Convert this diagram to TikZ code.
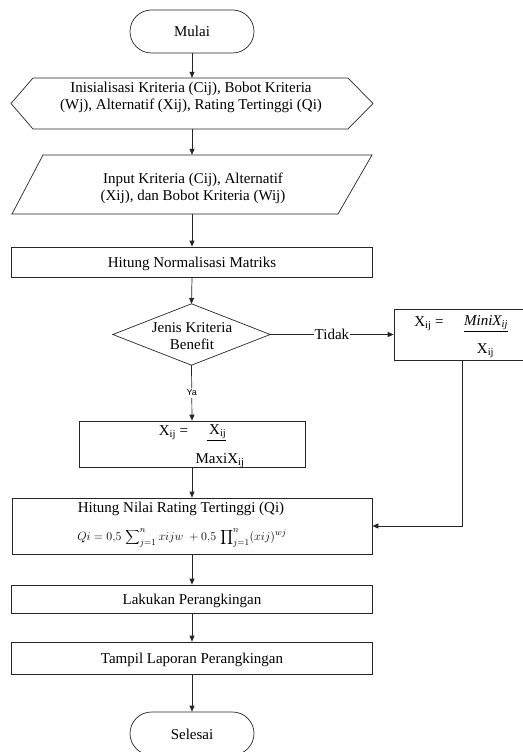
\documentclass[tikz,border=0pt]{standalone}
\usepackage{fontspec}
\setmainfont{Liberation Serif}
\newfontfamily\yafont{Liberation Sans}
\usetikzlibrary{arrows.meta,shapes.misc}
\begin{document}
\begin{tikzpicture}[x=1pt,y=-1pt,
  lc/.style={draw=black!85,line width=0.7pt},
  arr/.style={lc,-{Triangle[length=6pt,width=5pt]}},
  txt/.style={font=\fontsize{15}{17}\selectfont,inner sep=0pt,align=center},
  shp/.style={rectangle,inner sep=0pt},
  term/.style={lc,rounded rectangle,inner sep=0pt,minimum width=124pt,minimum height=43pt,
    font=\fontsize{15}{17}\selectfont,text height=13pt,text depth=2pt},
  pbox/.style={lc,rectangle,inner sep=0pt,font=\fontsize{15}{17}\selectfont,text height=13pt,text depth=2pt}
]
\useasboundingbox (0,0) rectangle (522,752);

% start
\node[term] (start) at (192,31.5) {Mulai};

% hexagon (preparation)
\node[shp,minimum width=362pt,minimum height=51pt] (hex) at (192,103.5) {};
\draw[lc] (11,103.5) -- (33,78) -- (348,78) -- (373,103.5) -- (348,129) -- (33,129) -- cycle;
\node[txt] (hextxt) at (191,97.5) {Inisialisasi Kriteria (Cij), Bobot Kriteria\\(Wj), Alternatif (Xij), Rating Tertinggi (Qi)};

% parallelogram (input)
\node[shp,minimum width=361pt,minimum height=59pt] (para) at (192,184.5) {};
\draw[lc] (43,155) -- (372,155) -- (338,214) -- (12,214) -- cycle;
\node[txt] (paratxt) at (193,188.5) {Input Kriteria (Cij), Alternatif\\(Xij), dan Bobot Kriteria (Wij)};

% normalisasi
\node[pbox,minimum width=361pt,minimum height=30pt] (norm) at (192,262) {Hitung Normalisasi Matriks};

% decision
\node[shp,minimum width=157pt,minimum height=61pt] (dia) at (191.5,334.5) {};
\draw[lc] (dia.north) -- (dia.east) -- (dia.south) -- (dia.west) -- cycle;
\node[txt] (diatxt) at (192,336) {Jenis Kriteria\\Benefit};

% right box (cost)
\node[pbox,minimum width=130pt,minimum height=51pt] (rbox) at (459,334.5) {};
\node[txt] (rb1) at (429,324) {X\textsubscript{ij} =};
\node[txt] (rb2) at (486,324) {\underline{\textit{MiniX\textsubscript{ij}}}};
\node[txt] (rb3) at (485.5,351) {X\textsubscript{ij}};

% left box (benefit)
\node[pbox,minimum width=226pt,minimum height=46pt] (xmax) at (192,444) {};
\node[txt] (xm1) at (173.5,433) {X\textsubscript{ij} =};
\node[txt] (xm2) at (216.5,433) {\underline{\,X\textsubscript{ij}}};
\node[txt] (xm3) at (220,461) {MaxiX\textsubscript{ij}};

% Qi box
\node[pbox,minimum width=360pt,minimum height=56pt] (qi) at (192,526) {};
\node[txt] (qi1) at (181,508.5) {Hitung Nilai Rating Tertinggi (Qi)};
\node[inner sep=0pt,font=\fontsize{12.8}{15}\selectfont] (qi2) at (182,538)
  {$Qi = 0{,}5\,\displaystyle\sum\nolimits_{j=1}^{n} xijw \;+ 0{,}5\,\displaystyle\prod\nolimits_{j=1}^{n} (xij)^{wj}$};

% ranking
\node[pbox,minimum width=361pt,minimum height=28pt] (rank) at (192,599) {Lakukan Perangkingan};
\node[pbox,minimum width=361pt,minimum height=32pt] (show) at (192,658) {Tampil Laporan Perangkingan};

% end
\node[term] (end) at (192,733.5) {Selesai};

% connectors
\draw[arr] (start.south) -- (hex.north);
\draw[arr] (hex.south) -- (para.north);
\draw[arr] (para.south) -- (norm.north);
\draw[arr] (norm.south) -- (dia.north);
\draw[arr] (dia.east) -- node[fill=white,inner sep=1pt,font=\fontsize{15}{17}\selectfont] (tidak) {Tidak} (rbox.west);
\draw[arr] (dia.south) -- node[fill=white,inner sep=1.5pt,font=\yafont\fontsize{9}{10}\selectfont] (ya) {Ya} (xmax.north);
\draw[arr] (xmax.south) -- (qi.north);
\coordinate (turn) at (462,526);
\draw[arr] (rbox.south -| turn) -- (turn) -- (qi.east |- turn);
\draw[arr] (qi.south) -- (rank.north);
\draw[arr] (rank.south) -- (show.north);
\draw[arr] (show.south) -- (end.north);
\end{tikzpicture}
\end{document}
